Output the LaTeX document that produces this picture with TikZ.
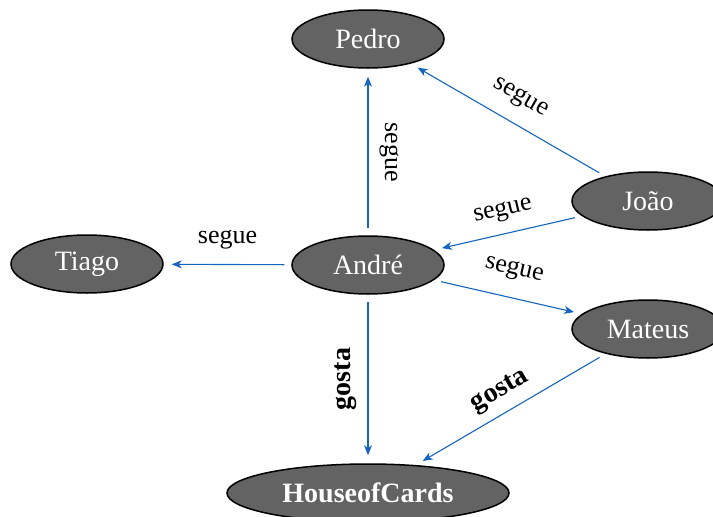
\documentclass[tikz,border=0pt]{standalone}
\usepackage{fontspec}
\setmainfont{Liberation Serif}
\usetikzlibrary{shapes.geometric,arrows.meta}
\definecolor{edgeblue}{RGB}{21,101,192}
\definecolor{nodegray}{RGB}{99,99,99}
\begin{document}
\begin{tikzpicture}[x=1pt, y=-1pt,
  person/.style={ellipse, draw=black, line width=1.5pt, fill=nodegray,
    text=white, minimum width=152pt, minimum height=58pt, inner sep=0pt,
    font=\fontsize{28}{32}\selectfont},
  rel/.style={draw=edgeblue, line width=1.1pt,
    -{Stealth[length=10pt,width=8pt,inset=3pt]},
    shorten >=8pt, shorten <=7pt},
  lbl/.style={font=\fontsize{26}{30}\selectfont, text=black},
  boldlbl/.style={font=\fontsize{28}{32}\selectfont\bfseries, text=black}]
  \useasboundingbox (0,0) rectangle (713,517);

  % people and the show
  \node[person] (pedro)  at (368,39)  {Pedro};
  \node[person] (tiago)  at (87,264)  {Tiago};
  \node[person] (andre)  at (368,265) {André};
  \node[person] (joao)   at (648,201) {João};
  \node[person] (mateus) at (648,329) {Mateus};
  \node[person, minimum width=282pt,
    font=\fontsize{28}{32}\selectfont\bfseries] (hoc) at (368,493) {HouseofCards};

  % "segue" relations
  \draw[rel] (andre) -- node[lbl, midway, rotate=-90, anchor=south, inner sep=11pt] {segue} (pedro);
  \draw[rel] (joao) -- node[lbl, midway, sloped, above, inner sep=15pt] {segue} (pedro);
  \draw[rel] (joao) -- node[lbl, midway, sloped, above, inner sep=12pt] {segue} (andre);
  \draw[rel] (andre) -- node[lbl, midway, above, inner sep=15pt] {segue} (tiago);
  \draw[rel] (andre) -- node[lbl, midway, sloped, above, inner sep=17pt] {segue} (mateus);

  % "gosta" relations
  \draw[rel] (andre) -- node[boldlbl, midway, rotate=90, anchor=south, inner sep=11pt] {gosta} (hoc);
  \draw[rel] (mateus) -- node[boldlbl, midway, sloped, above, inner sep=9pt] {gosta} (hoc);
\end{tikzpicture}
\end{document}
